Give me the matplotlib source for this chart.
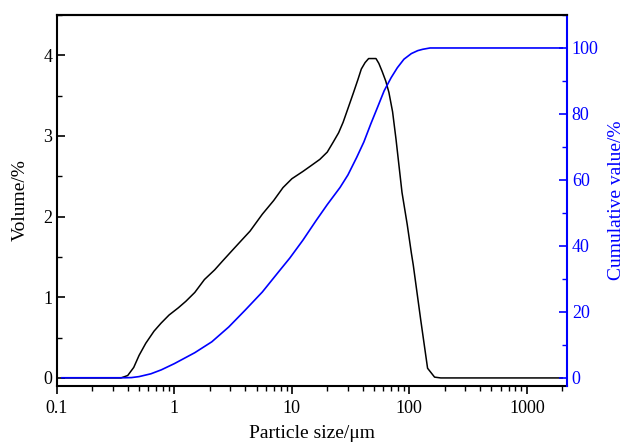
import matplotlib
matplotlib.use("Agg")
import matplotlib.pyplot as plt
from matplotlib.ticker import MultipleLocator, LogLocator, FixedFormatter, FixedLocator

plt.rcParams["font.family"] = ["Liberation Serif", "DejaVu Serif"]

# Volume distribution (black)
vol_size = [0.11, 0.2, 0.3, 0.35, 0.4, 0.45, 0.5, 0.57, 0.67, 0.77, 0.9, 1.08,
            1.25, 1.49, 1.8, 2.2, 2.57, 3.1, 3.8, 4.4, 5.6, 7.0, 8.4, 10.0,
            12.4, 14.5, 17.3, 20.0, 22.4, 25.0, 27.3, 30.0, 33.5, 36.5, 39.0,
            42.0, 45.0, 52.0, 55.0, 58.7, 63.0, 67.0, 72.0, 77.0, 86.6, 96.0,
            104.0, 108.0, 125.0, 143.0, 164.0, 185.0, 300.0, 600.0, 1000.0, 2000.0]
volume = [0.0, 0.0, 0.0, 0.0, 0.03, 0.13, 0.28, 0.43, 0.58, 0.68, 0.78, 0.87,
          0.95, 1.06, 1.22, 1.34, 1.45, 1.58, 1.72, 1.82, 2.03, 2.2, 2.36, 2.47,
          2.56, 2.63, 2.71, 2.8, 2.92, 3.04, 3.17, 3.34, 3.54, 3.7, 3.83,
          3.91, 3.96, 3.96, 3.9, 3.8, 3.68, 3.54, 3.3, 2.96, 2.3, 1.9,
          1.55, 1.4, 0.72, 0.12, 0.01, 0.0, 0.0, 0.0, 0.0, 0.0]

# Cumulative distribution (blue)
cum_size = [0.11, 0.3, 0.38, 0.43, 0.5, 0.63, 0.773, 1.0, 1.49, 2.08, 2.9, 4.0,
            5.6, 7.9, 9.6, 12.4, 16.1, 20.0, 25.7, 30.0, 35.6, 41.0, 47.0, 54.0,
            61.0, 70.0, 79.0, 90.0, 104.0, 118.0, 130.0, 150.0, 300.0, 1000.0, 2000.0]
cumulative = [0.0, 0.0, 0.0, 0.05, 0.35, 1.2, 2.4, 4.3, 7.6, 10.9, 15.4, 20.5,
              26.0, 32.6, 36.3, 41.7, 47.7, 52.5, 57.7, 61.5, 66.8, 71.5, 77.0, 82.3,
              87.0, 91.0, 94.0, 96.6, 98.3, 99.2, 99.6, 100.0, 100.0, 100.0, 100.0]

x_ticks = [0.1, 1, 10, 100, 1000]
x_labels = ["0.1", "1", "10", "100", "1000"]

fig = plt.figure(figsize=(6.27, 4.42), dpi=100)
ax1 = fig.add_axes([57 / 627, 1 - 386 / 442, 510 / 627, 371 / 442])
ax2 = ax1.twinx()

ax1.plot(vol_size, volume, color="black", linewidth=1.1)
ax2.plot(cum_size, cumulative, color="#0000ff", linewidth=1.2)

ax1.set_xscale("log")
ax1.set_xlim(0.1, 2200)
ax1.set_ylim(-0.1, 4.5)
ax2.set_ylim(-2.5, 110)

ax1.xaxis.set_major_locator(FixedLocator(x_ticks))
ax1.xaxis.set_major_formatter(FixedFormatter(x_labels))
ax1.xaxis.set_minor_locator(LogLocator(base=10, subs=range(2, 10), numticks=20))

ax1.yaxis.set_major_locator(MultipleLocator(1))
ax1.yaxis.set_minor_locator(MultipleLocator(0.5))
ax2.yaxis.set_major_locator(MultipleLocator(20))
ax2.yaxis.set_minor_locator(MultipleLocator(10))

ax1.tick_params(axis="x", which="major", direction="out", length=6, width=1.2,
                labelsize=13, pad=4)
ax1.tick_params(axis="x", which="minor", direction="out", length=3.5, width=1.0)
ax1.tick_params(axis="y", which="major", direction="in", length=6, width=1.2,
                labelsize=13)
ax1.tick_params(axis="y", which="minor", direction="in", length=3.5, width=1.0)
ax2.tick_params(axis="y", which="major", direction="in", length=6, width=1.2,
                labelsize=13, colors="#0000ff")
ax2.tick_params(axis="y", which="minor", direction="in", length=3.5, width=1.0,
                colors="#0000ff")

for side in ["left", "bottom", "top"]:
    ax1.spines[side].set_linewidth(1.5)
ax2.spines["right"].set_color("#0000ff")
ax2.spines["right"].set_linewidth(1.5)
ax2.spines["left"].set_visible(False)
ax2.spines["top"].set_linewidth(1.5)
ax2.spines["bottom"].set_visible(False)
ax1.spines["right"].set_visible(False)

ax1.set_xlabel("Particle size/μm", fontsize=14, labelpad=6)
ax1.set_ylabel("Volume/%", fontsize=14, labelpad=10)
ax2.set_ylabel("Cumulative value/%", fontsize=14, color="#0000ff", labelpad=7)

fig.savefig("out.png", dpi=100)
